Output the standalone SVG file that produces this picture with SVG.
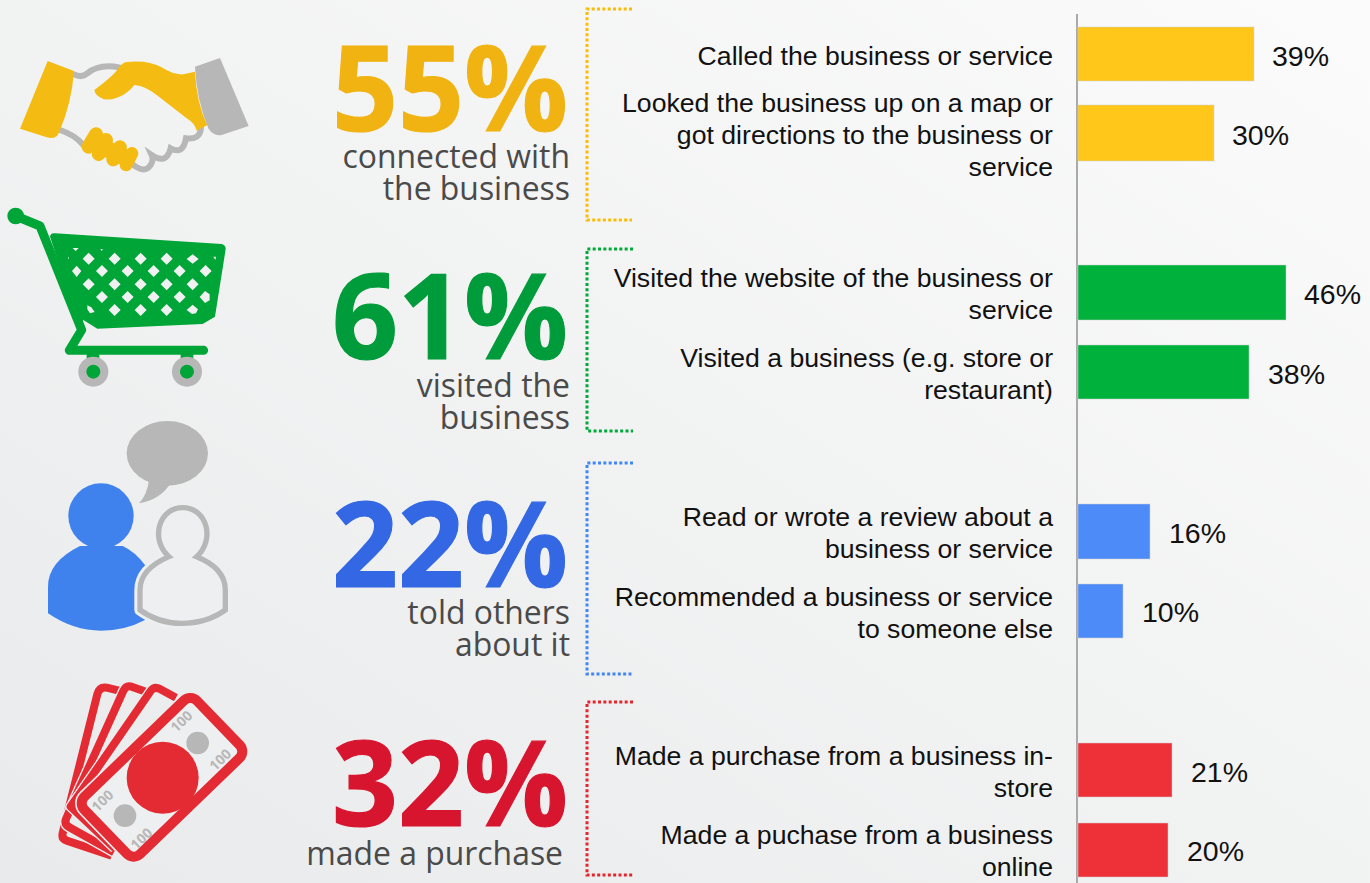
<svg xmlns="http://www.w3.org/2000/svg" width="1370" height="883" viewBox="0 0 1370 883">
<style>
.big{font-family:"Open Sans",sans-serif;font-weight:700;font-size:118px;text-anchor:end;stroke-width:1.2}
.sub{font-family:"Open Sans",sans-serif;font-size:31.900px;fill:#4a4a4a;text-anchor:end}
.lab{font-family:"Liberation Sans",Arial,sans-serif;font-size:26.650px;fill:#111;text-anchor:end}
.pct{font-family:"Liberation Sans",Arial,sans-serif;font-size:28.500px;fill:#111}
.br{fill:none;stroke-width:3;stroke-dasharray:3 2.33}
.bar{stroke:#d0d0d0;stroke-width:.5}
.g{fill:#b7b7b7}
.n{font-family:"Open Sans",sans-serif;font-weight:700;font-size:42px;fill:#b7b7b7;text-anchor:middle}
</style>
<defs>
<linearGradient id="bg" x1="1" y1="0" x2="0" y2="1">
<stop offset="0" stop-color="#fbfbfb"/><stop offset="1" stop-color="#e9eaeb"/>
</linearGradient>
</defs>
<rect width="1370" height="883" fill="url(#bg)"/>

<g id="icon-handshake" transform="translate(0,30) scale(.3333)">
<g fill="none" stroke="#b7b7b7" stroke-width="18" stroke-linecap="round">
<path d="M222,133 Q245,145 262,130 Q300,100 360,113"/>
<path d="M180,300 Q225,315 250,345"/>
<path d="M400,405 Q435,432 452,405 Q462,390 455,375 Q500,405 512,355 Q550,375 558,325 Q600,330 603,295"/>
</g>
<path fill="#f4bc12" d="M143,93 L222,123 Q215,220 178,305 Q170,330 140,322 L60,296 Z"/>
<path fill="#f4bc12" d="M375,97 Q440,88 485,112 Q520,135 550,133 L585,125 Q590,220 622,285 L590,302 Q585,280 560,265 L470,195 Q430,165 403,165 C385,190 345,215 310,207 Q285,197 283,180 Q330,145 350,122 Q360,105 375,97 Z"/>
<path class="g" d="M585,110 L660,84 L746,288 L665,315 Q640,320 625,295 Q590,210 585,110 Z"/>
<g fill="none" stroke="#f4bc12" stroke-linecap="round">
<path stroke-width="42" d="M288,313 L266,350"/><path stroke-width="42" d="M318,330 L296,372"/><path stroke-width="42" d="M360,352 L340,388"/><path stroke-width="38" d="M396,370 L378,405"/>
<path d="M285,340 L385,388" stroke-width="50" stroke-linecap="butt"/>
</g>
</g>

<g id="icon-cart" transform="translate(0,200) scale(.3333)">
<g fill="none" stroke="#00a537" stroke-linecap="round" stroke-linejoin="round">
<path stroke-width="27" d="M47,48 L120,78 L245,390 L208,451 L611,451"/>
<path stroke-width="18" d="M260,470 H298 M542,470 H580" stroke-linecap="butt"/>
</g>
<circle cx="47" cy="48" r="25" fill="#00a537"/>
<path fill="#00a537" fill-rule="evenodd" d="M150,110 Q152,98 165,100 L665,132 Q678,135 677,148 L645,350 L608,372 L292,386 L250,360 L240,380 Z
M266,158l18,18l-18,18l-18,-18z M344,158l18,18l-18,18l-18,-18z M422,158l18,18l-18,18l-18,-18z M500,158l18,18l-18,18l-18,-18z M578,163l18,14l-18,14l-18,-14z
M230,197l14,16l-14,18l-14,-18z M306,195l18,18l-18,18l-18,-18z M383,195l18,18l-18,18l-18,-18z M461,195l18,18l-18,18l-18,-18z M539,195l18,18l-18,18l-18,-18z M617,195l18,18l-18,18l-18,-18z
M266,235l18,18l-18,18l-18,-18z M344,235l18,18l-18,18l-18,-18z M422,235l18,18l-18,18l-18,-18z M500,235l18,18l-18,18l-18,-18z M578,235l18,18l-18,18l-18,-18z
M306,273l18,18l-18,18l-18,-18z M383,273l18,18l-18,18l-18,-18z M461,273l18,18l-18,18l-18,-18z M539,273l18,18l-18,18l-18,-18z M615,273l14,10l0,18l-14,8l-16,-18z
M262,316l12,6l10,14l-14,4l-8,-12z M344,312l18,18l-18,18l-18,-18z M422,312l18,18l-18,18l-18,-18z M500,312l18,18l-18,18l-18,-18z M578,314l16,14l-6,12l-12,2l-16,-12z
M218,144h18l-9,9z M301,147h8l-4,6z M204,170l3,4l-3,4z M640,170h8l-2,10z"/>
<circle class="g" cx="280" cy="515" r="45"/><circle cx="280" cy="515" r="21" fill="#00a537"/>
<circle class="g" cx="561" cy="515" r="45"/><circle cx="561" cy="515" r="21" fill="#00a537"/>
</g>

<g id="icon-people" transform="translate(30,410) scale(.3333)">
<ellipse class="g" cx="412" cy="130" rx="122" ry="97"/>
<path class="g" d="M358,205 Q352,255 327,280 Q390,270 422,220 Z"/>
<circle cx="213" cy="318" r="98" fill="#3f82ee"/>
<path fill="#3f82ee" d="M150,408 Q54,455 54,530 V610 Q130,662 213,662 Q285,662 345,630 L345,465 Q315,425 278,408 Z"/>
<path fill="#eeeff0" stroke="#eeeff0" stroke-width="34" stroke-linejoin="round" d="M417,440 C360,390 385,293 458,293 C532,293 556,390 500,440 C550,460 586,490 586,540 V600 Q530,640 455,640 Q385,640 330,600 V540 C330,490 370,460 417,440 Z"/>
<path fill="none" stroke="#b7b7b7" stroke-width="16" d="M417,440 C360,390 385,293 458,293 C532,293 556,390 500,440 C550,460 586,490 586,540 V600 Q530,640 455,640 Q385,640 330,600 V540 C330,490 370,460 417,440 Z"/>
</g>

<g id="icon-money" transform="translate(40,675) scale(.3333)">
<g fill="none" stroke-linejoin="round">
<path stroke="#e42a32" stroke-width="24" d="M237,47 L200,38 Q178,35 172,58 L95,365 L68,475 Q64,492 80,497 L215,542"/>
<path stroke="#ebeced" stroke-width="32" d="M322,52 L275,35 Q258,30 250,48 L108,362 L78,432 Q72,448 88,457 L222,532"/>
<path stroke="#e42a32" stroke-width="24" d="M322,52 L275,35 Q258,30 250,48 L108,362 L78,432 Q72,448 88,457 L222,532"/>
<path stroke="#ebeced" stroke-width="32" d="M408,68 L360,42 Q343,33 332,48 L118,358 L92,395 L225,520"/>
<path stroke="#e42a32" stroke-width="24" d="M408,68 L360,42 Q343,33 332,48 L118,358 L92,395 L225,520"/>
</g>
<rect x="131" y="187" width="470" height="240" rx="28" transform="rotate(-44 366 307)" fill="#eeeff0" stroke="#ebeced" stroke-width="40"/>
<rect x="131" y="187" width="470" height="240" rx="28" transform="rotate(-44 366 307)" fill="#eeeff0" stroke="#e42a32" stroke-width="30"/>
<circle cx="368" cy="308" r="108" fill="#e42a32"/>
<circle class="g" cx="473" cy="204" r="34"/><circle class="g" cx="255" cy="422" r="34"/>
<text class="n" transform="translate(435,150) rotate(-44)">100</text>
<text class="n" transform="translate(551,265) rotate(-44)">100</text>
<text class="n" transform="translate(198,388) rotate(-44)">100</text>
<text class="n" transform="translate(315,502) rotate(-44)">100</text>
</g>

<g id="connectors">
<path class="br" stroke="#fbbc05" d="M632,9 H587 V220 H632"/>
<path class="br" stroke="#00a83a" d="M633,249 H587 V431 H633"/>
<path class="br" stroke="#4285f4" d="M633,463 H587 V674 H633"/>
<path class="br" stroke="#e3262e" d="M633,702 H587 V875 H633"/>
<path d="M1077,14 V883" stroke="#aaa" stroke-width="2" fill="none"/>
</g>

<g id="stat-55"><text class="big" x="568" y="131" fill="#f0b312" stroke="#f0b312" textLength="236" lengthAdjust="spacingAndGlyphs">55%</text>
<text class="sub" x="570" y="168">connected with</text><text class="sub" x="570" y="200">the business</text></g>
<g id="stat-61"><text class="big" x="568" y="359" fill="#009b3a" stroke="#009b3a" textLength="236" lengthAdjust="spacingAndGlyphs">61%</text>
<text class="sub" x="570" y="397">visited the</text><text class="sub" x="570" y="429">business</text></g>
<g id="stat-22"><text class="big" x="568" y="587" fill="#3367e3" stroke="#3367e3" textLength="236" lengthAdjust="spacingAndGlyphs">22%</text>
<text class="sub" x="570" y="624">told others</text><text class="sub" x="570" y="656">about it</text></g>
<g id="stat-32"><text class="big" x="568" y="826" fill="#d7152f" stroke="#d7152f" textLength="236" lengthAdjust="spacingAndGlyphs">32%</text>
<text class="sub" x="563" y="865">made a purchase</text></g>

<g id="row-called"><text class="lab" x="1053" y="65">Called the business or service</text>
<rect class="bar" x="1078" y="27" width="176" height="54" fill="#fec71a"/><text class="pct" x="1272" y="66">39%</text></g>
<g id="row-map"><text class="lab" x="1053" y="112">Looked the business up on a map or</text><text class="lab" x="1053" y="144">got directions to the business or</text><text class="lab" x="1053" y="176">service</text>
<rect class="bar" x="1078" y="105" width="136" height="56" fill="#fec71a"/><text class="pct" x="1232" y="145">30%</text></g>
<g id="row-website"><text class="lab" x="1053" y="287">Visited the website of the business or</text><text class="lab" x="1053" y="319">service</text>
<rect class="bar" x="1078" y="265" width="208" height="55" fill="#00b13c"/><text class="pct" x="1304" y="304">46%</text></g>
<g id="row-visited"><text class="lab" x="1053" y="367">Visited a business (e.g. store or</text><text class="lab" x="1053" y="399">restaurant)</text>
<rect class="bar" x="1078" y="345" width="171" height="54" fill="#00b13c"/><text class="pct" x="1268" y="384">38%</text></g>
<g id="row-review"><text class="lab" x="1053" y="526">Read or wrote a review about a</text><text class="lab" x="1053" y="558">business or service</text>
<rect class="bar" x="1078" y="504" width="72" height="55" fill="#4d8bf8"/><text class="pct" x="1169" y="543">16%</text></g>
<g id="row-recommend"><text class="lab" x="1053" y="606">Recommended a business or service</text><text class="lab" x="1053" y="638">to someone else</text>
<rect class="bar" x="1078" y="584" width="45" height="54" fill="#4d8bf8"/><text class="pct" x="1142" y="622">10%</text></g>
<g id="row-instore"><text class="lab" x="1053" y="765">Made a purchase from a business in-</text><text class="lab" x="1053" y="797">store</text>
<rect class="bar" x="1078" y="743" width="94" height="54" fill="#ee3138"/><text class="pct" x="1191" y="782">21%</text></g>
<g id="row-online"><text class="lab" x="1053" y="844">Made a puchase from a business</text><text class="lab" x="1053" y="876">online</text>
<rect class="bar" x="1078" y="823" width="90" height="54" fill="#ee3138"/><text class="pct" x="1187" y="861">20%</text></g>
</svg>
